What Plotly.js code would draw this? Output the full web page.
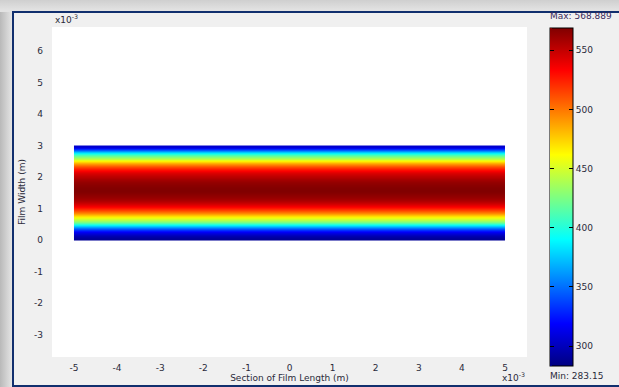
<!DOCTYPE html>
<html>
<head>
<meta charset="utf-8">
<script src="https://cdn.plot.ly/plotly-3.0.1.min.js"></script>
<style>
  html, body { margin: 0; padding: 0; }
  #frame { position: relative; width: 619px; height: 387px; overflow: hidden;
    background: linear-gradient(to right, #b9b9b9 0px, #d6d6d6 8px, #e4e4e4 12px); }
  #topshade { position: absolute; left: 0; top: 0; width: 619px; height: 12px;
    background: linear-gradient(to bottom, #cfcfcf 0px, #e2e2e2 10px); }
  #win { position: absolute; left: 12px; top: 11px; width: 620px; height: 372px;
    border: 2px solid #112f6e; background: #f0f0f0; }
  #chart { position: absolute; left: 0; top: 0; width: 619px; height: 387px; }
</style>
</head>
<body>
<div id="frame">
  <div id="topshade"></div>
  <div id="win"></div>
  <div id="chart"></div>
</div>
<script>
// Film length cell edges (x10^-3 m)
const xEdges = [-5, 0, 5];
// Film width cell edges (x10^-3 m)
const yEdges = [0, 0.1, 0.2, 0.3, 0.4, 0.5, 0.6, 0.7, 0.8, 0.9, 1.0,
                1.1, 1.2, 1.3, 1.4, 1.5, 1.6, 1.7, 1.8, 1.9, 2.0,
                2.1, 2.2, 2.3, 2.4, 2.5, 2.6, 2.7, 2.8, 2.9, 3.0];
// Temperature (K) across the film width, bottom to top
const temperature = [290, 300, 315, 340, 375, 415, 445, 470, 495, 515,
                     532, 545, 555, 562, 566, 568.889, 568, 566, 563, 558,
                     550, 540, 526, 508, 485, 455, 425, 390, 345, 305];
const tMin = 283.15;
const tMax = 568.889;
const xTicks = [-5, -4, -3, -2, -1, 0, 1, 2, 3, 4, 5];
const yTicks = [-3, -2, -1, 0, 1, 2, 3, 4, 5, 6];
const cbTicks = [300, 350, 400, 450, 500, 550];

const jet = [[0, '#000080'], [0.125, '#0000ff'], [0.375, '#00ffff'],
             [0.625, '#ffff00'], [0.875, '#ff0000'], [1, '#800000']];

const z = temperature.map(v => xEdges.slice(1).map(() => v));

const fontFam = 'DejaVu Sans, Verdana, sans-serif';
const txtColor = '#2a2a3a';

const cbCommon = {
  x: 1.048, xanchor: 'left', xpad: 0, ypad: 0,
  y: 0.485, yanchor: 'middle', len: 338, lenmode: 'pixels',
  tickmode: 'array', tickvals: cbTicks
};

const traces = [
  {
    type: 'heatmap', x: xEdges, y: yEdges, z: z,
    zmin: tMin, zmax: tMax, colorscale: jet, zsmooth: 'best',
    hoverinfo: 'skip',
    colorbar: Object.assign({}, cbCommon, {
      thickness: 23, outlinewidth: 1, outlinecolor: '#000',
      ticks: 'inside', ticklen: 4, tickcolor: '#000', tickwidth: 1,
      ticktext: cbTicks.map(String),
      tickfont: {family: fontFam, size: 9, color: txtColor}
    })
  },
  {
    type: 'scatter', mode: 'markers', x: [null], y: [null],
    showlegend: false, hoverinfo: 'skip',
    marker: {
      color: [tMin], cmin: tMin, cmax: tMax, colorscale: jet, showscale: true,
      colorbar: Object.assign({}, cbCommon, {
        thickness: 0.01, outlinewidth: 0,
        ticks: 'outside', ticklen: 4, tickcolor: '#000', tickwidth: 1,
        showticklabels: false
      })
    }
  }
];

const layout = {
  width: 619, height: 387,
  margin: {l: 52, r: 92, t: 27, b: 30, pad: 0},
  paper_bgcolor: 'rgba(0,0,0,0)',
  plot_bgcolor: '#ffffff',
  showlegend: false,
  font: {family: fontFam, size: 9, color: txtColor},
  xaxis: {
    range: [-5.51, 5.51], tickmode: 'array', tickvals: xTicks,
    ticktext: xTicks.map(String), showgrid: false, zeroline: false,
    showline: false, ticks: '', ticklabelstandoff: 4,
    tickfont: {family: fontFam, size: 9, color: txtColor},
    title: {text: 'Section of Film Length (m)', standoff: 2,
            font: {family: fontFam, size: 9, color: txtColor}}
  },
  yaxis: {
    range: [-3.71, 6.76], tickmode: 'array', tickvals: yTicks,
    ticktext: yTicks.map(String), showgrid: false, zeroline: false,
    showline: false, ticks: '', ticklabelstandoff: 8,
    tickfont: {family: fontFam, size: 9, color: txtColor},
    title: {text: 'Film Width (m)', standoff: 6,
            font: {family: fontFam, size: 9, color: txtColor}}
  },
  annotations: [
    {xref: 'paper', yref: 'paper', x: 0.003, y: 1.0, xanchor: 'left', yanchor: 'bottom',
     text: 'x10<sup>-3</sup>', showarrow: false,
     font: {family: fontFam, size: 9, color: txtColor}},
    {xref: 'paper', yref: 'paper', x: 1.0, y: -0.062, xanchor: 'right', yanchor: 'middle',
     text: 'x10<sup>-3</sup>', showarrow: false,
     font: {family: fontFam, size: 9, color: txtColor}},
    {xref: 'paper', yref: 'paper', x: 1.044, y: 1.012, xanchor: 'left', yanchor: 'bottom',
     text: 'Max: ' + tMax, showarrow: false,
     font: {family: fontFam, size: 9, color: '#3a2a5a'}},
    {xref: 'paper', yref: 'paper', x: 1.044, y: -0.035, xanchor: 'left', yanchor: 'top',
     text: 'Min: ' + tMin, showarrow: false,
     font: {family: fontFam, size: 9, color: txtColor}}
  ]
};

Plotly.newPlot('chart', traces, layout, {staticPlot: true, displayModeBar: false});
</script>
</body>
</html>
